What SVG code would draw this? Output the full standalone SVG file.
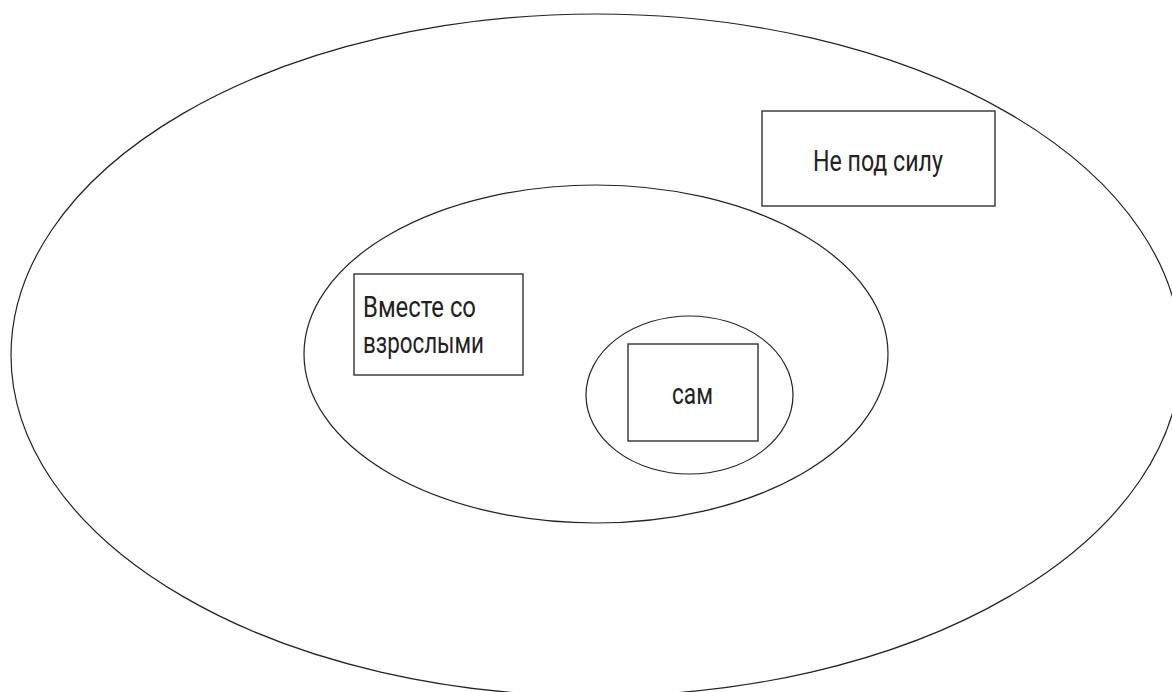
<svg xmlns="http://www.w3.org/2000/svg" width="1172" height="692" viewBox="0 0 1172 692">
<style>
.ell{fill:none;stroke:#222;stroke-width:1.2}
.box{fill:#fff;stroke:#333;stroke-width:1.4}
.lbl{font-family:Roboto,"Liberation Sans",sans-serif;font-size:30px;fill:#222}
</style>
<rect width="1172" height="692" fill="#fff"/>
<g id="outer"><ellipse class="ell" cx="596" cy="355" rx="585" ry="341"/></g>
<g id="middle"><ellipse class="ell" cx="596" cy="354" rx="292" ry="169"/></g>
<g id="inner"><ellipse class="ell" cx="689.5" cy="395" rx="103.5" ry="79"/></g>
<g id="node-ne-pod-silu">
<rect class="box" x="762" y="111" width="233" height="95"/>
<text class="lbl" x="813" y="171" textLength="130" lengthAdjust="spacingAndGlyphs">Не под силу</text>
</g>
<g id="node-vmeste">
<rect class="box" x="354" y="274" width="169" height="101"/>
<text class="lbl" x="363" y="317" textLength="113" lengthAdjust="spacingAndGlyphs">Вместе со</text>
<text class="lbl" x="363" y="353" textLength="121" lengthAdjust="spacingAndGlyphs">взрослыми</text>
</g>
<g id="node-sam">
<rect class="box" x="628" y="344" width="130" height="97"/>
<text class="lbl" x="672" y="404" textLength="41" lengthAdjust="spacingAndGlyphs">сам</text>
</g>
<g id="connectors"></g>
</svg>
